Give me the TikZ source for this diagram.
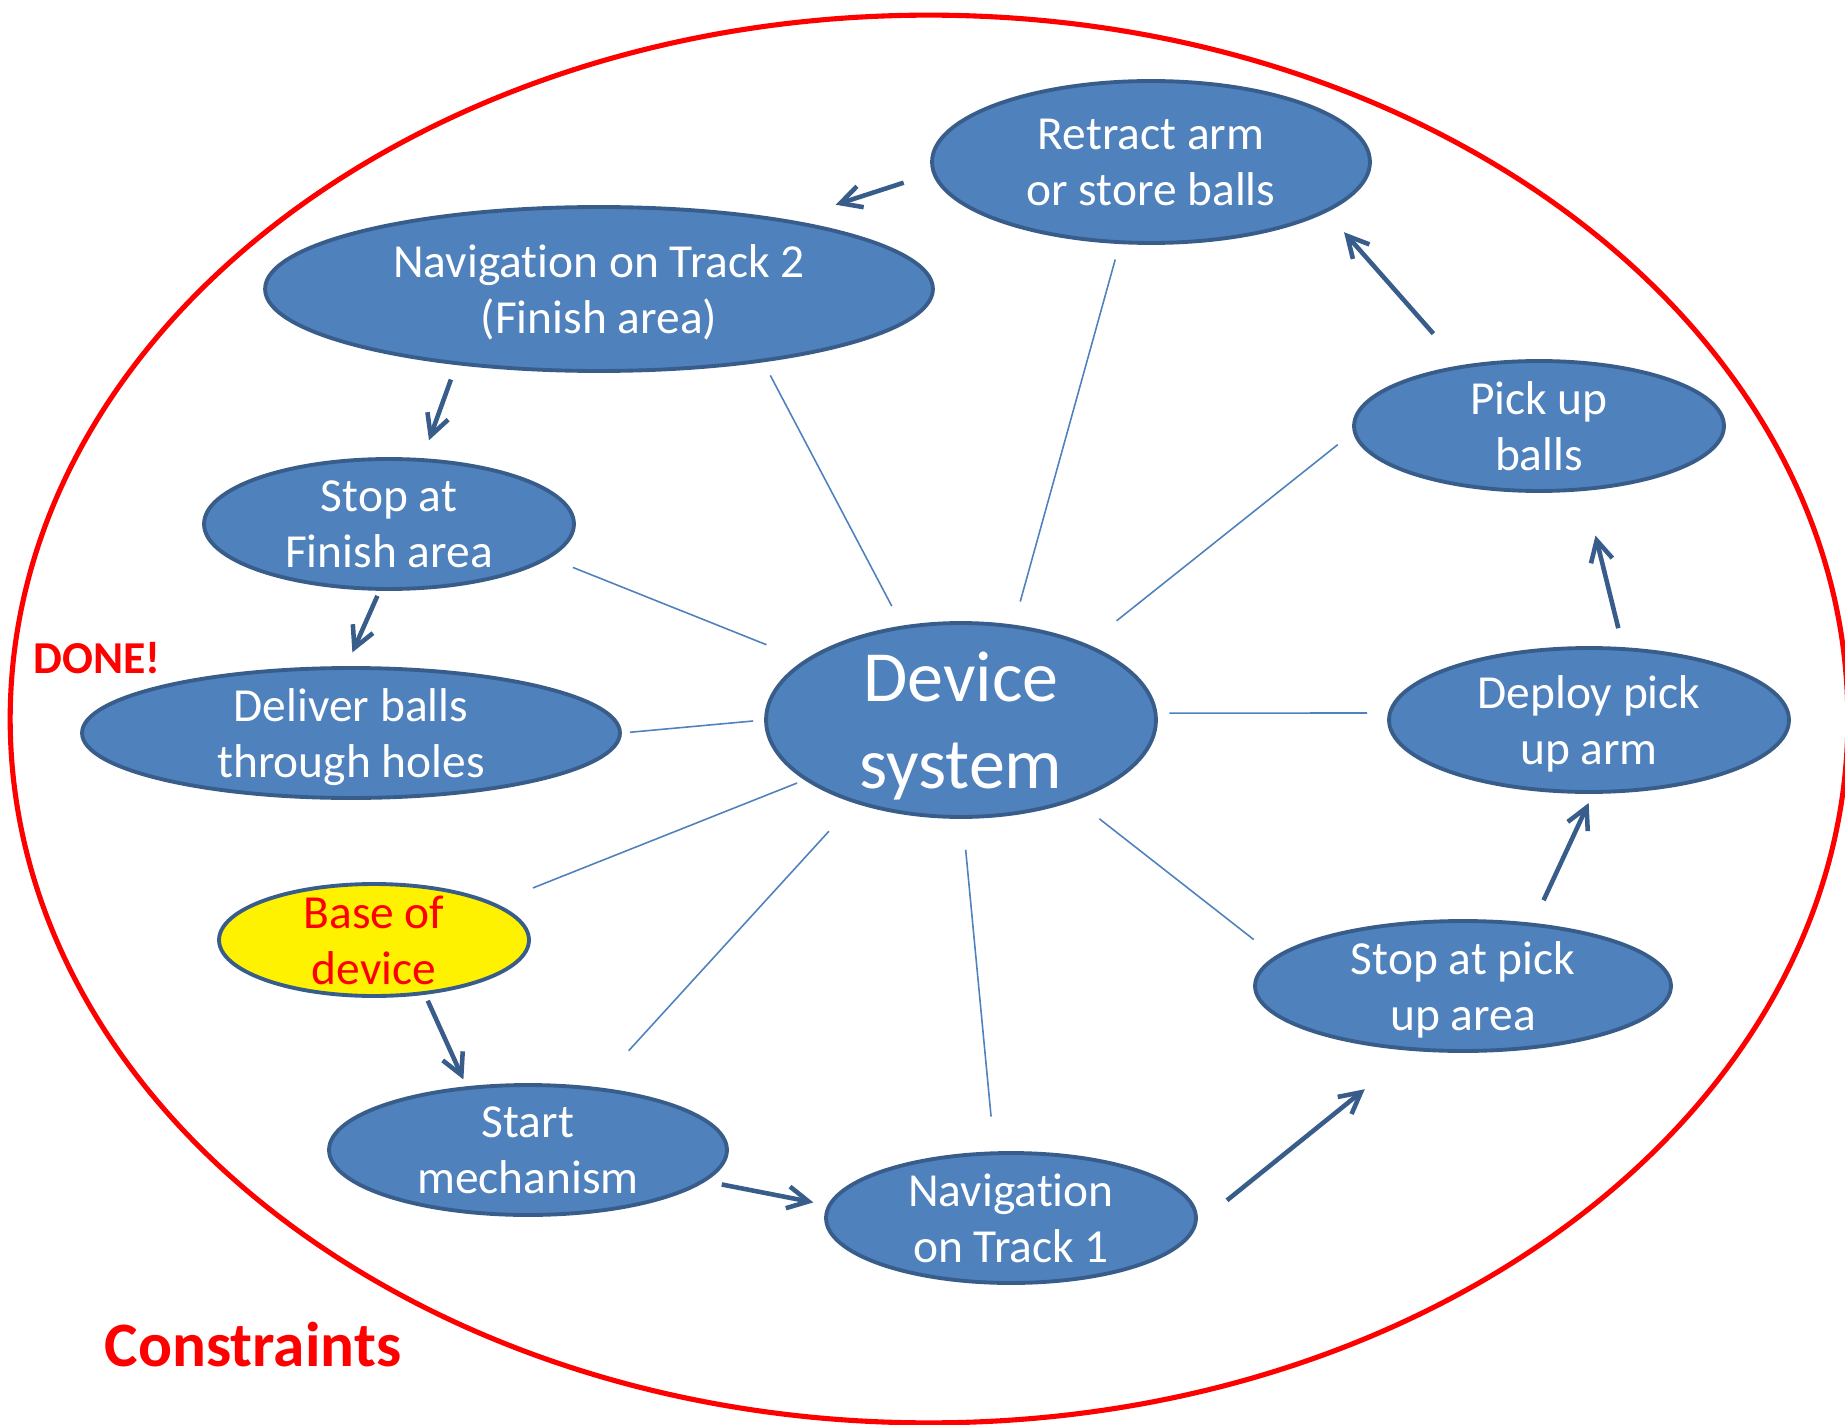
\documentclass[tikz,border=0pt]{standalone}
\usepackage{fontspec}
\setmainfont{Carlito}[Ligatures=NoCommon]
\usetikzlibrary{shapes.geometric,arrows.meta}
\definecolor{ofblue}{HTML}{4F81BD}
\definecolor{ofedge}{HTML}{385D8A}
\begin{document}
\begin{tikzpicture}[x=0.02cm,y=-0.02cm,
  bub/.style={ellipse,draw=ofedge,line width=2.2pt,fill=ofblue,text=white,align=center,inner xsep=0pt,inner ysep=-7pt,text depth=0pt,font=\fontsize{27}{32}\selectfont},
  sp/.style={draw=ofblue,line width=0.9pt},
  ar/.style={draw=ofedge,line width=2.6pt,-{Straight Barb[length=4.2mm,width=4.4mm]}}]
\useasboundingbox (0,0) rectangle (1845,1425);
\draw[red,line width=2.9pt] (929,719) ellipse [x radius=18.38cm,y radius=14.08cm];
% tasks round the device
\node[bub,text depth=-5pt,minimum width=8.76cm,minimum height=3.24cm] (retract) at (1151,162) {Retract arm\\or store balls};
\node[bub,minimum width=13.36cm,minimum height=3.28cm] (nav2) at (599,289) {Navigation on Track 2\\(Finish area)};
\node[bub,minimum width=7.4cm,minimum height=2.6cm] (stopfin) at (389,524) {Stop at\\Finish area};
\node[bub,minimum width=10.76cm,minimum height=2.6cm] (deliver) at (351,733) {Deliver balls\\through holes};
\node[bub,fill=yellow,text=red,minimum width=6.2cm,minimum height=2.24cm] (base) at (374,940) {Base of\\device};
\node[bub,minimum width=7.96cm,minimum height=2.6cm] (start) at (528,1150) {Start\\mechanism};
\node[bub,minimum width=7.4cm,minimum height=2.6cm] (nav1) at (1011,1218) {Navigation\\on Track 1};
\node[bub,minimum width=8.32cm,minimum height=2.6cm] (stoppick) at (1463,986) {Stop at pick\\up area};
\node[bub,minimum width=8cm,minimum height=2.88cm] (deploy) at (1589,720) {Deploy pick\\up arm};
\node[bub,minimum width=7.4cm,minimum height=2.6cm] (pickup) at (1539,426) {Pick up\\balls};
\node[bub,minimum width=7.8cm,minimum height=3.88cm,font=\fontsize{41}{49.5}\selectfont] (dev) at (961,720) {Device\\system};
\node[text=red,font=\bfseries\fontsize{26}{31}\selectfont] (done) at (97,658) {DONE!};
\node[text=red,font=\bfseries\fontsize{36}{43}\selectfont] (cons) at (253,1345) {Constraints};
% spokes
\foreach \sa/\nd/\ta/\ga/\gb in {122.9/nav2/336.1/0.44cm/0.3cm,61/retract/249/0.48cm/0.32cm,31/pickup/182.5/0.75cm/0.39cm,2.5/deploy/178/0.24cm/0.42cm,325.5/stoppick/171/0.6cm/0.54cm,271/nav1/104/0.62cm/0.7cm,218/start/43.5/0.76cm/0.98cm,201/base/17.4/0.16cm/0.82cm,180/deliver/0/0.22cm/0.16cm,159.4/stopfin/348.7/0.82cm/0.5cm}
  {\draw[sp,shorten <=\ga,shorten >=\gb] (dev.\sa) -- (\nd.\ta);}
% sequence
\foreach \na/\sa/\nd/\ta/\ga/\gb in {retract/183.9/nav2/20.1/0.6cm/0.98cm,nav2/208.2/stopfin/63.4/0.31cm/0.38cm,stopfin/262.3/deliver/94.4/0.11cm/0.3cm,base/313.5/start/134/0.13cm/0.15cm,start/350/nav1/176.2/0.33cm/0.29cm,nav1/358.8/stoppick/232.7/0.77cm/1.22cm,stoppick/42.4/deploy/273.4/0.5cm/0.2cm,deploy/65.4/pickup/305/0.39cm/0.92cm,pickup/142.5/retract/344.3/0.84cm/0.53cm}
  {\draw[ar,shorten <=\ga,shorten >=\gb] (\na.\sa) -- (\nd.\ta);}
\end{tikzpicture}
\end{document}
